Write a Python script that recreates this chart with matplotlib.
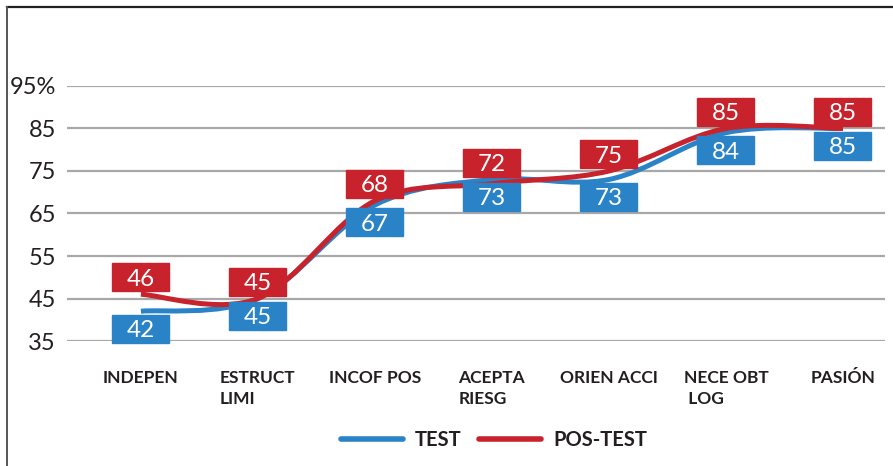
import matplotlib

matplotlib.use("Agg")
import matplotlib.pyplot as plt
from matplotlib.lines import Line2D
from matplotlib.patches import PathPatch, Rectangle
from matplotlib.path import Path

plt.rcParams["font.family"] = ["Lato", "DejaVu Sans"]

categories = ["INDEPEN", "ESTRUCT\nLIMI", "INCOF POS", "ACEPTA\nRIESG", "ORIEN ACCI", "NECE OBT\n LOG", "PASIÓN"]
test = [42, 45, 67, 73, 73, 84, 85]
pos_test = [46, 45, 68, 72, 75, 85, 85]
y_ticks = [35, 45, 55, 65, 75, 85, 95]
y_tick_labels = ["35", "45", "55", "65", "75", "85", "95%"]

BLUE = "#2A83C7"
RED = "#C8232C"
TEXT = "#231F20"


def smooth_path(xs, ys):
    # Catmull-Rom through the points, written as cubic bezier segments
    pts = list(zip(xs, ys))
    ext = [pts[0]] + pts + [pts[-1]]
    verts = [pts[0]]
    codes = [Path.MOVETO]
    for i in range(1, len(ext) - 2):
        p0, p1, p2, p3 = ext[i - 1], ext[i], ext[i + 1], ext[i + 2]
        c1 = (p1[0] + (p2[0] - p0[0]) / 6, p1[1] + (p2[1] - p0[1]) / 6)
        c2 = (p2[0] - (p3[0] - p1[0]) / 6, p2[1] - (p3[1] - p1[1]) / 6)
        verts += [c1, c2, p2]
        codes += [Path.CURVE4] * 3
    return Path(verts, codes)


fig = plt.figure(figsize=(8.93, 4.66), dpi=100)
ax = fig.add_axes([0.075, 0.2682, 0.916, 0.5473])

x = list(range(len(categories)))
ax.set_xlim(-0.632, 6.359)
ax.set_ylim(35, 95)

for t in y_ticks:
    ax.axhline(t, color="#A8A8A8", lw=1.6, zorder=1)

ax.add_patch(PathPatch(smooth_path(x, pos_test), fill=False, edgecolor=RED, lw=3.6, capstyle="butt", zorder=3))
ax.add_patch(PathPatch(smooth_path(x, test), fill=False, edgecolor=BLUE, lw=3.6, capstyle="butt", zorder=2))

# value boxes: 57x28 px, converted to data units
box_w = 57 / 117
box_h = 28 / 4.25
for xi, b, r in zip(x, test, pos_test):
    red_bottom = max(b, r) + 0.7
    ax.add_patch(Rectangle((xi - box_w / 2, red_bottom), box_w, box_h, color=RED, zorder=5, clip_on=False))
    ax.text(xi, red_bottom + box_h / 2, str(r), color="white", fontsize=17.5, ha="center", va="center_baseline", zorder=6)
    blue_top = b - 0.8
    ax.add_patch(Rectangle((xi - box_w / 2, blue_top - box_h), box_w, box_h, color=BLUE, zorder=5, clip_on=False))
    ax.text(xi, blue_top - box_h / 2, str(b), color="white", fontsize=17.5, ha="center", va="center_baseline", zorder=6)

ax.set_yticks(y_ticks)
ax.set_yticklabels(y_tick_labels, fontsize=17, color=TEXT)
ax.set_xticks(x)
ax.set_xticklabels(categories, fontsize=12.5, fontweight="bold", color=TEXT, multialignment="left", va="top",
                   linespacing=1.35)
ax.tick_params(axis="y", length=0, pad=8)
ax.tick_params(axis="x", length=0, pad=21)
for s in ax.spines.values():
    s.set_visible(False)

# frame lines at top and left of the figure
fig.add_artist(Line2D([7 / 893, 1], [1 - 7 / 466, 1 - 7 / 466], color="#222222", lw=1.6))
fig.add_artist(Line2D([7 / 893, 7 / 893], [0, 1 - 7 / 466], color="#555555", lw=1.4))

handles = [
    Line2D([], [], color=BLUE, lw=4, solid_capstyle="round"),
    Line2D([], [], color=RED, lw=4, solid_capstyle="round"),
]
leg = fig.legend(handles, ["TEST", "POS-TEST"], loc="center", bbox_to_anchor=(0.553, 0.056), ncol=2,
                 frameon=False, handlelength=3.1, handletextpad=0.6, columnspacing=0.85,
                 prop={"size": 14.5, "weight": "bold"})
for t in leg.get_texts():
    t.set_color(TEXT)

fig.savefig("out.png", dpi=100)
